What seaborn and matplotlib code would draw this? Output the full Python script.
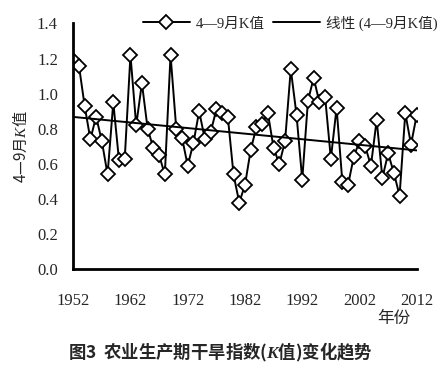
import numpy as np
import pandas as pd
import matplotlib
matplotlib.use("Agg")
import matplotlib.pyplot as plt
import seaborn as sns

# K values for April-September
years = list(range(1952, 2013))
k_values = [1.19, 1.16, 0.93, 0.74, 0.87, 0.73, 0.54, 0.95, 0.62, 0.63,
            1.22, 0.82, 1.06, 0.80, 0.69, 0.65, 0.54, 1.22, 0.80, 0.75,
            0.59, 0.72, 0.90, 0.74, 0.78, 0.91, 0.89, 0.87, 0.54, 0.38,
            0.48, 0.68, 0.81, 0.83, 0.89, 0.69, 0.60, 0.73, 1.14, 0.88,
            0.51, 0.96, 1.09, 0.95, 0.98, 0.63, 0.92, 0.50, 0.48, 0.64,
            0.73, 0.70, 0.59, 0.85, 0.52, 0.66, 0.55, 0.42, 0.89, 0.71,
            0.88]
x_ticks = [1952, 1962, 1972, 1982, 1992, 2002, 2012]
y_ticks = [0.0, 0.2, 0.4, 0.6, 0.8, 1.0, 1.2, 1.4]

df = pd.DataFrame({"year": years, "k": k_values})

sns.set_style("white")
plt.rcParams["font.family"] = ["Liberation Serif", "Noto Sans CJK SC"]
# mathtext: plain parts use the text's own font, K in serif italic
plt.rcParams["mathtext.fontset"] = "custom"
plt.rcParams["mathtext.it"] = "Liberation Serif:italic"
plt.rcParams["mathtext.bfit"] = "Liberation Serif:italic:bold"

fig = plt.figure(figsize=(4.41, 3.72), dpi=100)
ax = fig.add_axes([0.166, 0.276, 0.779, 0.661])

sns.lineplot(data=df, x="year", y="k", ax=ax, color="black", linewidth=1.4,
             marker="D", markersize=7.5, markerfacecolor="white",
             markeredgecolor="black", markeredgewidth=1.3, label="4—9月K值")
sns.regplot(data=df, x="year", y="k", ax=ax, scatter=False, ci=None,
            color="black", line_kws={"linewidth": 1.4}, label="线性 (4—9月K值)")

ax.set_xlim(1952, 2012)
ax.set_ylim(0, 1.4)
ax.set_xticks(x_ticks)
ax.set_xticklabels([str(v) for v in x_ticks], family="Liberation Serif")
ax.set_yticks(y_ticks)
ax.set_yticklabels([f"{v:.1f}" for v in y_ticks], family="Liberation Serif")
ax.tick_params(direction="in", length=5, width=1.2, labelsize=12)
ax.tick_params(axis="y", pad=11)
ax.tick_params(axis="x", pad=17)
for side in ["top", "right"]:
    ax.spines[side].set_visible(False)
for side in ["left", "bottom"]:
    ax.spines[side].set_linewidth(2)
    ax.spines[side].set_color("black")

ax.set_xlabel("")
ax.set_ylabel("4—9月$K$值", fontsize=11, family="Noto Sans CJK SC")
ax.yaxis.set_label_coords(-0.125, 0.5)
fig.text(0.893, 0.143, "年份", fontsize=12, ha="center", va="center")

ax.legend(loc="center left", bbox_to_anchor=(143 / 441, 1 - 23 / 372),
          bbox_transform=fig.transFigure, ncol=2, frameon=False,
          fontsize=10.5, handlelength=3.2, handletextpad=0.4, columnspacing=0.6,
          borderaxespad=0, borderpad=0)

fig.text(0.5, 0.052, "图3  农业生产期干旱指数($\\mathbfit{K}$值)变化趋势",
         fontsize=12.5, weight="bold", family="Noto Sans CJK SC",
         ha="center", va="center")

fig.savefig("out.png", dpi=100)
